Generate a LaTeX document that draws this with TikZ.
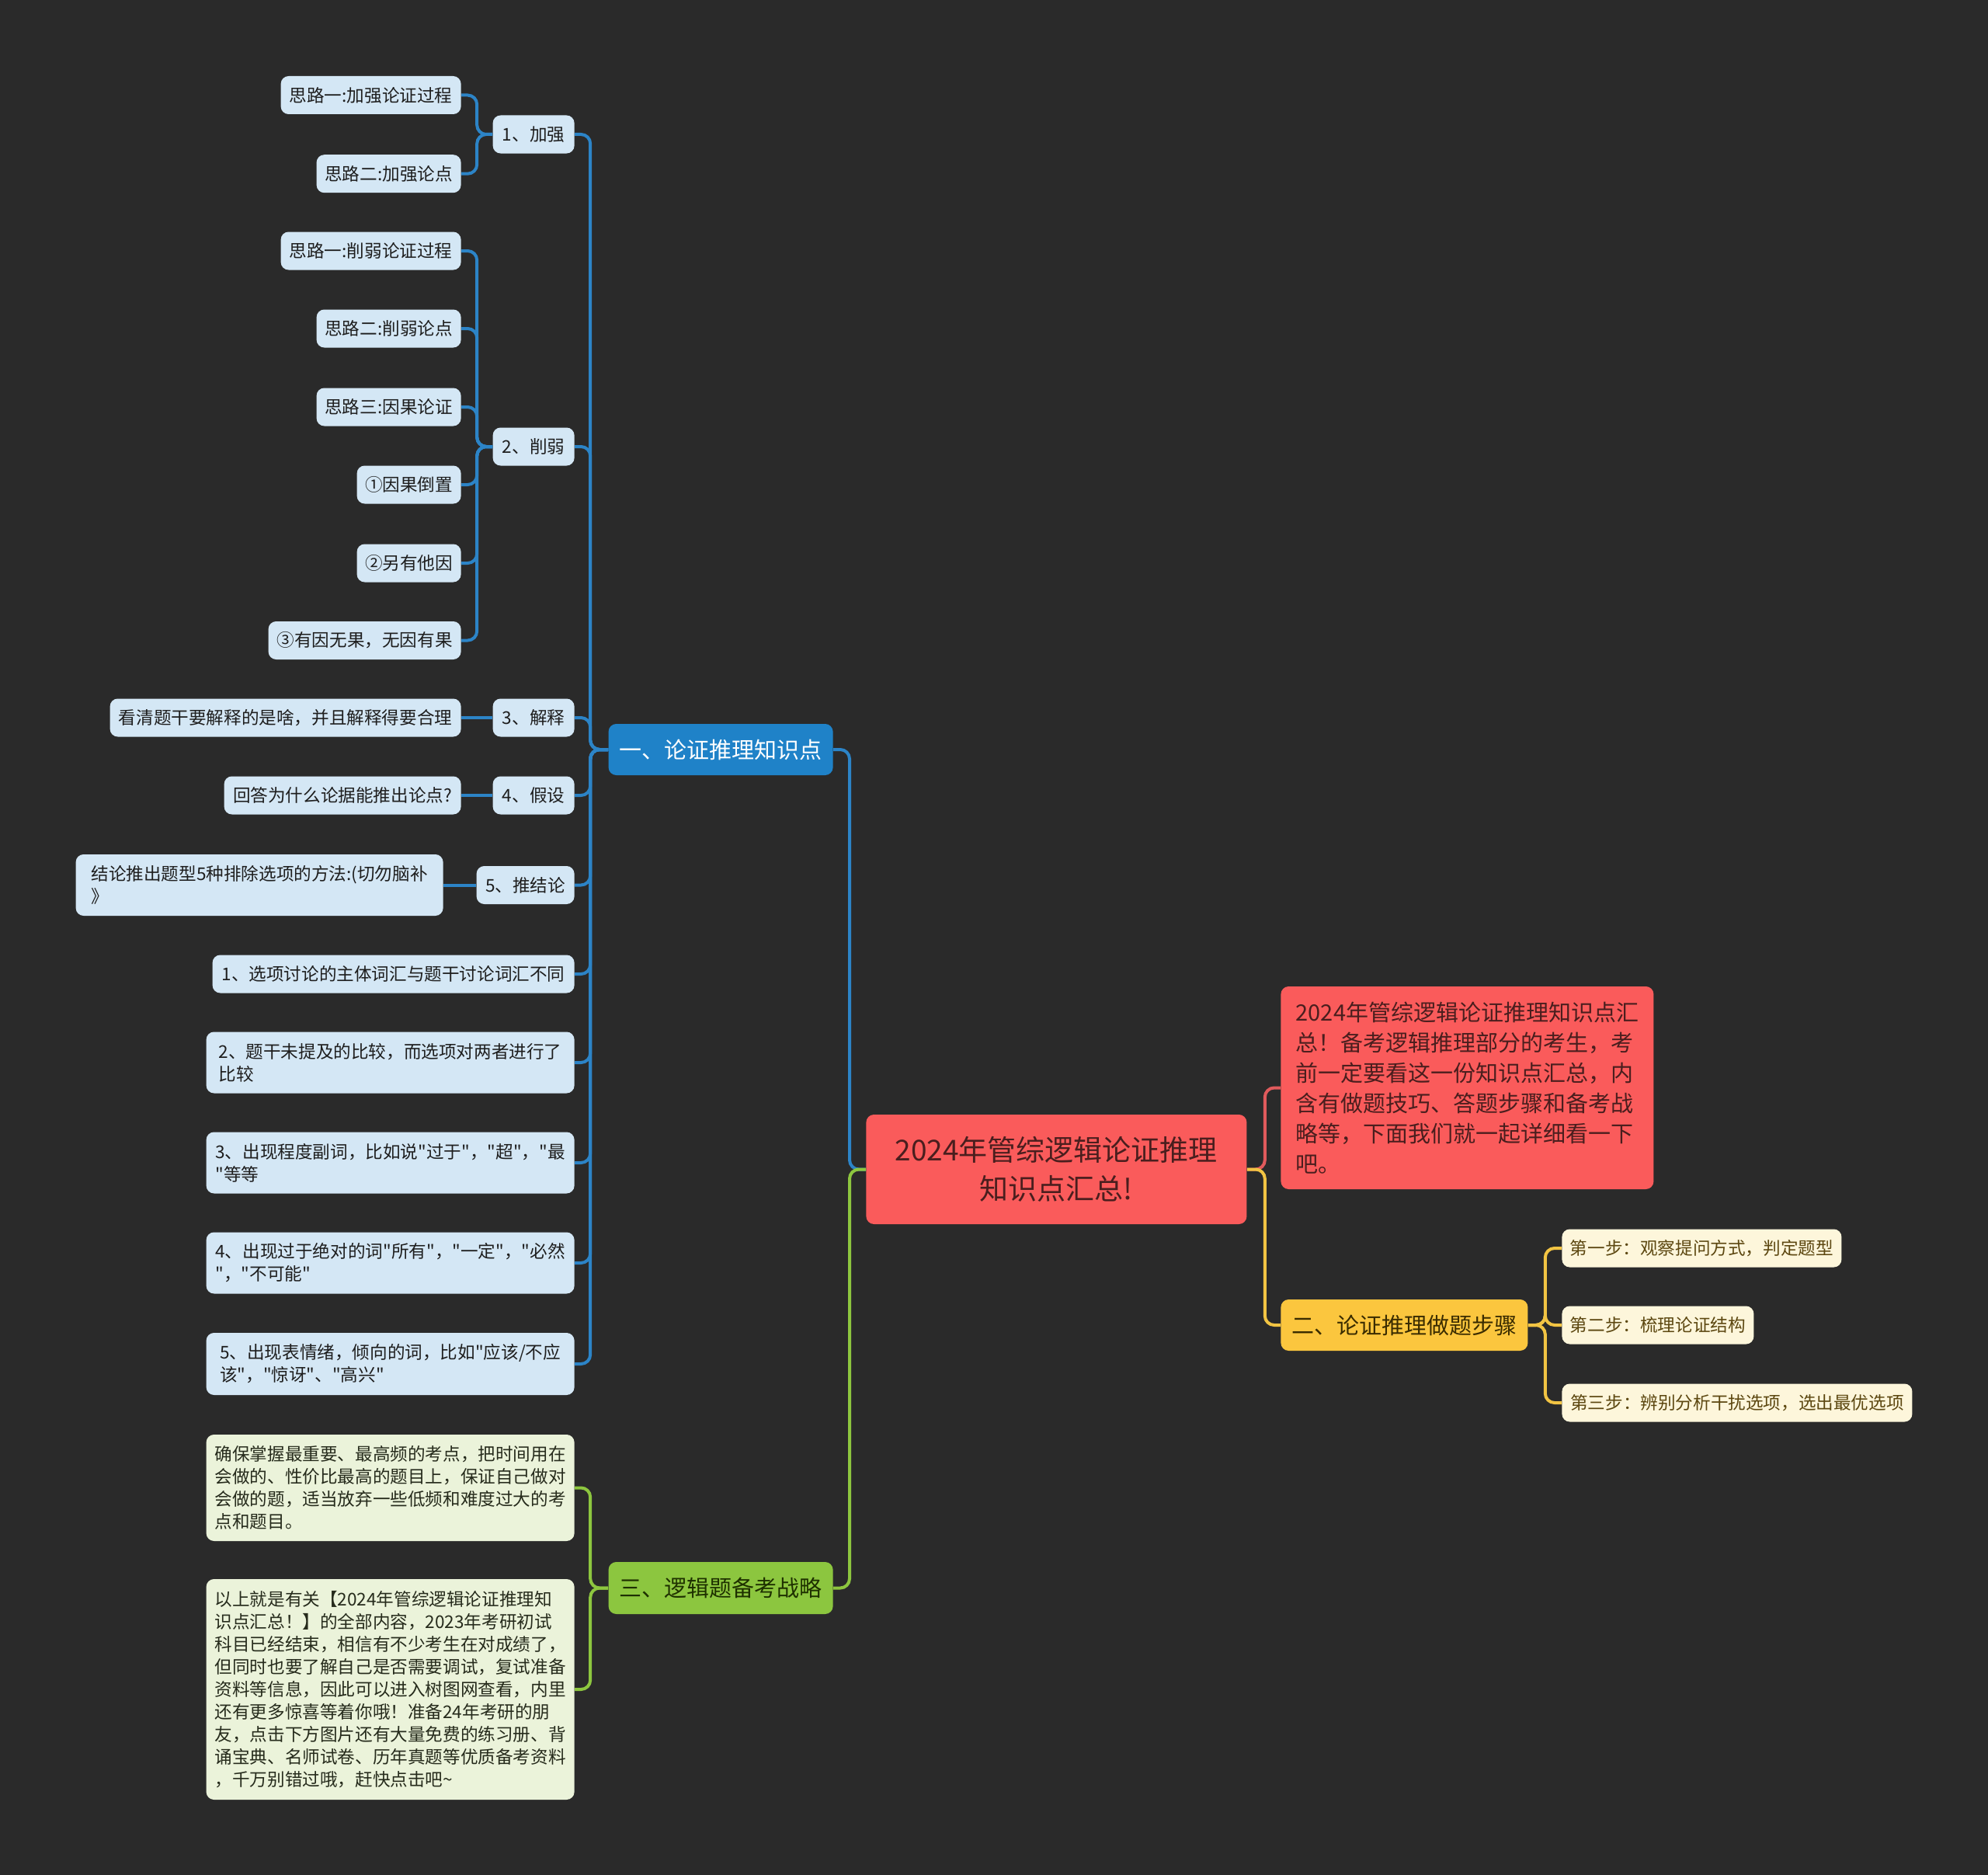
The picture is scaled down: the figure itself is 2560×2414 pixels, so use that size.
\documentclass[tikz,border=0pt]{standalone}
\usepackage{fontspec}
\setmainfont{Noto Sans CJK SC}[Ligatures=TeXOff]
\definecolor{bg}{HTML}{2A2A2A}
\definecolor{bline}{HTML}{2C84C7}
\definecolor{bbr}{HTML}{1F82C8}
\definecolor{bleafc}{HTML}{D4E7F5}
\definecolor{leaftxt}{HTML}{1E1E1E}
\definecolor{redc}{HTML}{FA5B5B}
\definecolor{redtxt}{HTML}{4A1E1E}
\definecolor{redline}{HTML}{E05A5C}
\definecolor{yelc}{HTML}{FBC63E}
\definecolor{yeltxt}{HTML}{3A2C00}
\definecolor{yelline}{HTML}{F2C443}
\definecolor{creamc}{HTML}{FDF6DB}
\definecolor{creamtxt}{HTML}{5C4710}
\definecolor{grnc}{HTML}{8CC63F}
\definecolor{grntxt}{HTML}{1E3000}
\definecolor{grnline}{HTML}{8DC63F}
\definecolor{lgrnc}{HTML}{EBF3DA}
\definecolor{lgrntxt}{HTML}{262B1C}
\tikzset{
  box/.style={rounded corners=5pt, inner xsep=4pt, inner ysep=3pt, align=center},
  bleaf/.style={box, fill=bleafc, text=leaftxt, font=\fontsize{11.3}{14.5}\selectfont, minimum height=24.5pt},
  bbranch/.style={box, fill=bbr, text=white, font=\fontsize{14.5}{18}\selectfont, minimum height=33pt},
  gbranch/.style={box, fill=grnc, text=grntxt, font=\fontsize{14.5}{18}\selectfont, minimum height=33.5pt},
  gleaf/.style={box, fill=lgrnc, text=lgrntxt, font=\fontsize{11.3}{14.5}\selectfont, align=left},
  ybranch/.style={box, fill=yelc, text=yeltxt, font=\fontsize{14.5}{18}\selectfont, minimum height=33pt},
  yleaf/.style={box, fill=creamc, text=creamtxt, font=\fontsize{11.3}{14.5}\selectfont, minimum height=24.5pt},
  rootbox/.style={box, fill=redc, text=redtxt, font=\fontsize{18.5}{25.3}\selectfont},
  descbox/.style={box, fill=redc, text=redtxt, font=\fontsize{14.5}{19.5}\selectfont, align=left},
  conn/.style={line width=2pt, rounded corners=6pt},
}
\begin{document}
\begin{tikzpicture}[x=0.5pt,y=-0.5pt]
\fill[bg] (0,0) rectangle (2560,2414);
\useasboundingbox (0,0) rectangle (2560,2414);

% ---------- left blue branch ----------
\node[bleaf, anchor=east, minimum width=116pt] (a1) at (594,122.5) {思路一:加强论证过程};
\node[bleaf, anchor=east, minimum width=93pt] (a2) at (594,223.7) {思路二:加强论点};
\node[bleaf, anchor=east, minimum width=52.5pt] (p1) at (740,173) {1、加强};

\node[bleaf, anchor=east, minimum width=116pt] (b1) at (594,323) {思路一:削弱论证过程};
\node[bleaf, anchor=east, minimum width=93pt] (b2) at (594,423) {思路二:削弱论点};
\node[bleaf, anchor=east, minimum width=93pt] (b3) at (594,524) {思路三:因果论证};
\node[bleaf, anchor=east, minimum width=67pt] (b4) at (594,624) {①因果倒置};
\node[bleaf, anchor=east, minimum width=67pt] (b5) at (594,725) {②另有他因};
\node[bleaf, anchor=east, minimum width=124pt] (b6) at (594,824.5) {③有因无果，无因有果};
\node[bleaf, anchor=east, minimum width=52.5pt] (p2) at (740,575) {2、削弱};

\node[bleaf, anchor=east, minimum width=226pt] (c1) at (594,924) {看清题干要解释的是啥，并且解释得要合理};
\node[bleaf, anchor=east, minimum width=52.5pt] (p3) at (740,924) {3、解释};

\node[bleaf, anchor=east, minimum width=152.5pt] (d1) at (594,1024) {回答为什么论据能推出论点?};
\node[bleaf, anchor=east, minimum width=52.5pt] (p4) at (740,1024) {4、假设};

\node[bleaf, anchor=east, minimum width=236.5pt, minimum height=39.5pt, align=left] (e1) at (571,1139.5) {结论推出题型5种排除选项的方法:(切勿脑补\\》};
\node[bleaf, anchor=east, minimum width=63pt] (p5) at (740,1139.5) {5、推结论};

\node[bleaf, anchor=east, minimum width=233pt] (q1) at (740,1254) {1、选项讨论的主体词汇与题干讨论词汇不同};
\node[bleaf, anchor=east, minimum width=237pt, minimum height=39.5pt, align=left] (q2) at (740,1368) {2、题干未提及的比较，而选项对两者进行了\\比较};
\node[bleaf, anchor=east, minimum width=237pt, minimum height=39.5pt, align=left] (q3) at (740,1497) {3、出现程度副词，比如说"过于"，"超"，"最\\"等等};
\node[bleaf, anchor=east, minimum width=237pt, minimum height=39.5pt, align=left] (q4) at (740,1626) {4、出现过于绝对的词"所有"，"一定"，"必然\\"，"不可能"};
\node[bleaf, anchor=east, minimum width=237pt, minimum height=40pt, align=left] (q5) at (740,1756) {5、出现表情绪，倾向的词，比如"应该/不应\\该"，"惊讶"、"高兴"};

\node[bbranch, anchor=east, minimum width=144.5pt] (n1) at (1073,965) {一、论证推理知识点};

% ---------- green branch ----------
\node[gleaf, anchor=east, minimum width=237pt, minimum height=68.5pt] (g1) at (740,1915.5) {确保掌握最重要、最高频的考点，把时间用在\\会做的、性价比最高的题目上，保证自己做对\\会做的题，适当放弃一些低频和难度过大的考\\点和题目。};
\node[gleaf, anchor=east, minimum width=237pt, minimum height=142pt] (g2) at (740,2175) {以上就是有关【2024年管综逻辑论证推理知\\识点汇总！】的全部内容，2023年考研初试\\科目已经结束，相信有不少考生在对成绩了，\\但同时也要了解自己是否需要调试，复试准备\\资料等信息，因此可以进入树图网查看，内里\\还有更多惊喜等着你哦！准备24年考研的朋\\友，点击下方图片还有大量免费的练习册、背\\诵宝典、名师试卷、历年真题等优质备考资料\\，千万别错过哦，赶快点击吧\textasciitilde};
\node[gbranch, anchor=east, minimum width=144.5pt] (n3) at (1073,2044.5) {三、逻辑题备考战略};

% ---------- root and right side ----------
\node[rootbox, anchor=west, minimum width=245pt, minimum height=70.5pt] (root) at (1115,1505.5) {2024年管综逻辑论证推理\\知识点汇总!};
\node[descbox, anchor=west, minimum width=240pt, minimum height=130.5pt] (desc) at (1649,1400.5) {2024年管综逻辑论证推理知识点汇\\总！备考逻辑推理部分的考生，考\\前一定要看这一份知识点汇总，内\\含有做题技巧、答题步骤和备考战\\略等，下面我们就一起详细看一下\\吧。};
\node[ybranch, anchor=west, minimum width=159pt] (n2) at (1649,1706) {二、论证推理做题步骤};
\node[yleaf, anchor=west, minimum width=180pt] (s1) at (2011,1607) {第一步：观察提问方式，判定题型};
\node[yleaf, anchor=west, minimum width=123.5pt] (s2) at (2011,1706) {第二步：梳理论证结构};
\node[yleaf, anchor=west, minimum width=225.5pt] (s3) at (2011,1806) {第三步：辨别分析干扰选项，选出最优选项};

% ---------- connectors ----------
\begin{scope}[conn, draw=bline]
  \foreach \c in {a1,a2} \draw (p1.west) -- ++(-20,0) |- (\c.east);
  \foreach \c in {b1,b2,b3,b4,b5,b6} \draw (p2.west) -- ++(-20,0) |- (\c.east);
  \draw (p3.west) -- (c1.east);
  \draw (p4.west) -- (d1.east);
  \draw (p5.west) -- (e1.east);
  \foreach \c in {p1,p2,p3,p4,p5,q1,q2,q3,q4,q5} \draw (n1.west) -- ++(-23,0) |- (\c.east);
  \draw (root.west) -- ++(-21,0) |- (n1.east);
\end{scope}
\begin{scope}[conn, draw=grnline]
  \foreach \c in {g1,g2} \draw (n3.west) -- ++(-23,0) |- (\c.east);
  \draw (root.west) -- ++(-21,0) |- (n3.east);
\end{scope}
\begin{scope}[conn]
  \draw[redline] (root.east) -- ++(23,0) |- (desc.west);
  \draw[yelline] (root.east) -- ++(23,0) |- (n2.west);
  \foreach \c in {s1,s2,s3} \draw[yelline] (n2.east) -- ++(22,0) |- (\c.west);
\end{scope}
\end{tikzpicture}
\end{document}
